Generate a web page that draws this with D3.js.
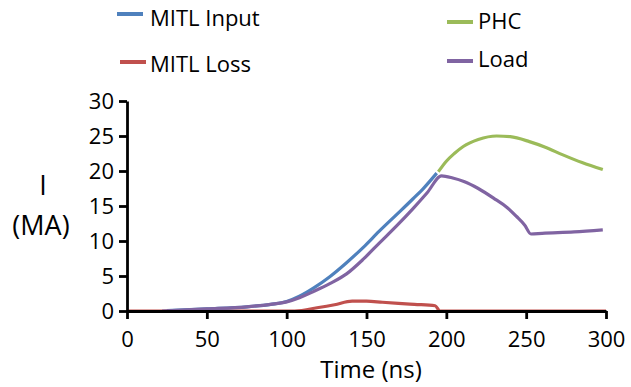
<!DOCTYPE html>
<html><head><meta charset="utf-8">
<script src="https://cdn.jsdelivr.net/npm/d3@7"></script>
<style>body{margin:0;background:#fff}svg{display:block}text{font-family:"Open Sans",sans-serif;fill:#000}</style>
</head><body><svg id="c" width="631" height="387"></svg>
<script>
const xTicks = [0, 50, 100, 150, 200, 250, 300];
const yTicks = [0, 5, 10, 15, 20, 25, 30];
const seriesNames = ["MITL Input", "MITL Loss", "PHC", "Load"];
const seriesColors = ["#4F81BD", "#C0504D", "#9BBB59", "#8064A2"];

const inputT = [25, 50, 75, 90, 100, 108, 117, 127, 137.5, 148, 158, 169, 179, 186, 194];
const inputV = [0.05, 0.3, 0.6, 0.95, 1.35, 2.1, 3.3, 4.9, 6.9, 9.1, 11.4, 13.8, 16.0, 17.6, 19.7];

const lossT = [0, 105, 120, 130, 141, 150, 160, 170, 180, 193, 196, 300];
const lossV = [0, 0, 0.5, 0.9, 1.4, 1.4, 1.25, 1.1, 0.95, 0.75, 0, 0];

const phcT = [195, 200, 205, 210.6, 220, 231.5, 240, 252, 262, 273, 285, 298];
const phcV = [19.9, 21.4, 22.5, 23.5, 24.5, 25.0, 24.9, 24.2, 23.4, 22.3, 21.2, 20.2];

const loadT = [22, 50, 75, 90, 100, 108, 117, 127, 137.5, 148, 158, 169, 179, 188, 197, 204, 211, 220, 231, 238, 244, 249, 253, 260, 280, 298];
const loadV = [0, 0.3, 0.6, 0.95, 1.3, 1.9, 2.8, 3.9, 5.3, 7.4, 9.7, 12.2, 14.6, 16.9, 19.3, 19.0, 18.5, 17.5, 15.9, 14.8, 13.5, 12.3, 11.0, 11.1, 11.3, 11.6];

const svg = d3.select("#c");
const x = d3.scaleLinear().domain([0, 300]).range([127, 606]);
const y = d3.scaleLinear().domain([0, 30]).range([311, 101]);

const zip = (T, V) => T.map((t, i) => [t, V[i]]);
const data = [zip(inputT, inputV), zip(lossT, lossV), zip(phcT, phcV), zip(loadT, loadV)];
const line = d3.line().x(d => x(d[0])).y(d => y(d[1])).curve(d3.curveMonotoneX);

data.forEach((d, i) => {
  svg.append("path").datum(d).attr("d", line).attr("fill", "none")
    .attr("stroke", seriesColors[i]).attr("stroke-width", 3.2).attr("stroke-linejoin", "round");
});

const xa = svg.append("g").attr("transform", "translate(0,311)")
  .call(d3.axisBottom(x).tickValues(xTicks).tickSize(8).tickSizeOuter(0).tickPadding(4));
const ya = svg.append("g").attr("transform", "translate(127,0)")
  .call(d3.axisLeft(y).tickValues(yTicks).tickSize(8).tickSizeOuter(0).tickPadding(5));
[xa, ya].forEach(a => {
  a.select(".domain").attr("stroke", "#000").attr("stroke-width", 2.8);
  a.selectAll(".tick line").attr("stroke", "#000").attr("stroke-width", 2.8);
  a.selectAll("text").style("font-size", "22px").style("font-family", "'Open Sans',sans-serif").attr("fill", "#000");
});
xa.selectAll("text").attr("dy", null).attr("y", 36);

svg.append("text").attr("x", 371).attr("y", 378).attr("text-anchor", "middle").style("font-size", "24px").text("Time (ns)");
svg.append("text").attr("x", 43).attr("y", 195).attr("text-anchor", "middle").style("font-size", "27px").text("I");
svg.append("text").attr("x", 41).attr("y", 235).attr("text-anchor", "middle").style("font-size", "27px").text("(MA)");

const legendPos = [[117, 14, 26], [120, 62, 72], [447, 22, 29], [447, 61, 67]];
seriesNames.forEach((n, i) => {
  const [lx, ly, tb] = legendPos[i];
  svg.append("line").attr("x1", lx).attr("x2", lx + 26).attr("y1", ly).attr("y2", ly)
    .attr("stroke", seriesColors[i]).attr("stroke-width", 4);
  svg.append("text").attr("x", i < 2 ? 150 : 478).attr("y", tb).style("font-size", "22px").text(n);
});
</script></body></html>
